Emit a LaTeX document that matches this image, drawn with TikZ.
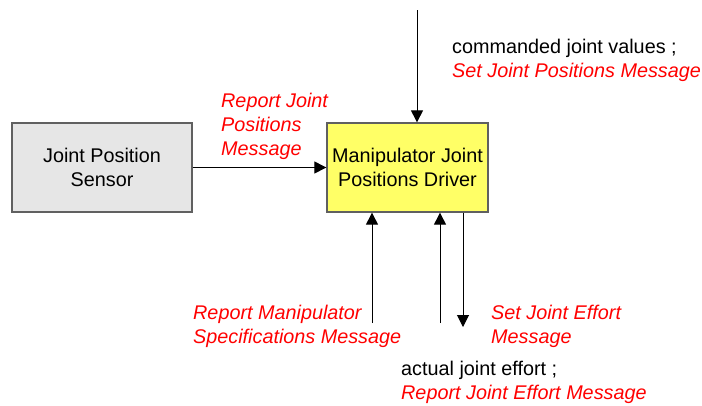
\documentclass[tikz,border=0pt]{standalone}
\usepackage{fontspec}
\setmainfont{Liberation Sans}
\usetikzlibrary{arrows.meta}
\definecolor{boxgray}{HTML}{E6E6E6}
\definecolor{boxyellow}{HTML}{FFFF66}
\definecolor{edgegray}{HTML}{606060}
\definecolor{msgred}{HTML}{FF0000}
\begin{document}
\begin{tikzpicture}[x=1pt,y=-1pt,
  every node/.style={font=\fontsize{19.8}{23.5}\selectfont},
  block/.style={draw=edgegray, line width=1.3pt, minimum width=#1, minimum height=89pt, align=center, inner sep=0pt},
  flow/.style={line width=1pt, -{Triangle[width=12pt,length=12pt]}},
  label/.style={align=left, anchor=base west, inner sep=0pt},
  msg/.style={label, text=msgred, font=\fontsize{19.8}{24}\itshape}
]
\useasboundingbox (0,0) rectangle (702,405);

% blocks
\node[block=180pt, fill=boxgray] (sensor) at (102,167.5) {Joint Position\\Sensor};
\node[block=161pt, fill=boxyellow] (driver) at (407.5,167.5) {Manipulator Joint\\Positions Driver};

% free ends of the connectors
\coordinate (cmdIn) at (417,10);
\coordinate (specIn) at (372,323);
\coordinate (effIn) at (440,323);
\coordinate (setOut) at (463,327);

% connectors
\draw[flow] (sensor.east) -- (driver.west);
\draw[flow] (cmdIn) -- (cmdIn |- driver.north);
\draw[flow] (specIn) -- (specIn |- driver.south);
\draw[flow] (effIn) -- (effIn |- driver.south);
\draw[flow] (setOut |- driver.south) -- (setOut);

% labels (multi-line labels are placed by the baseline of their last line)
\node[label] (cmdTxt) at (452,53) {commanded joint values ;};
\node[msg] (setPosTxt) at (452,77) {Set Joint Positions Message};
\node[msg] (repPosTxt) at (221,155) {Report Joint\\Positions\\Message};
\node[msg] (specTxt) at (193,343) {Report Manipulator\\Specifications Message};
\node[msg] (setEffTxt) at (491,343) {Set Joint Effort\\Message};
\node[label] (actTxt) at (401,375) {actual joint effort ;};
\node[msg] (repEffTxt) at (401,399) {Report Joint Effort Message};
\end{tikzpicture}
\end{document}
